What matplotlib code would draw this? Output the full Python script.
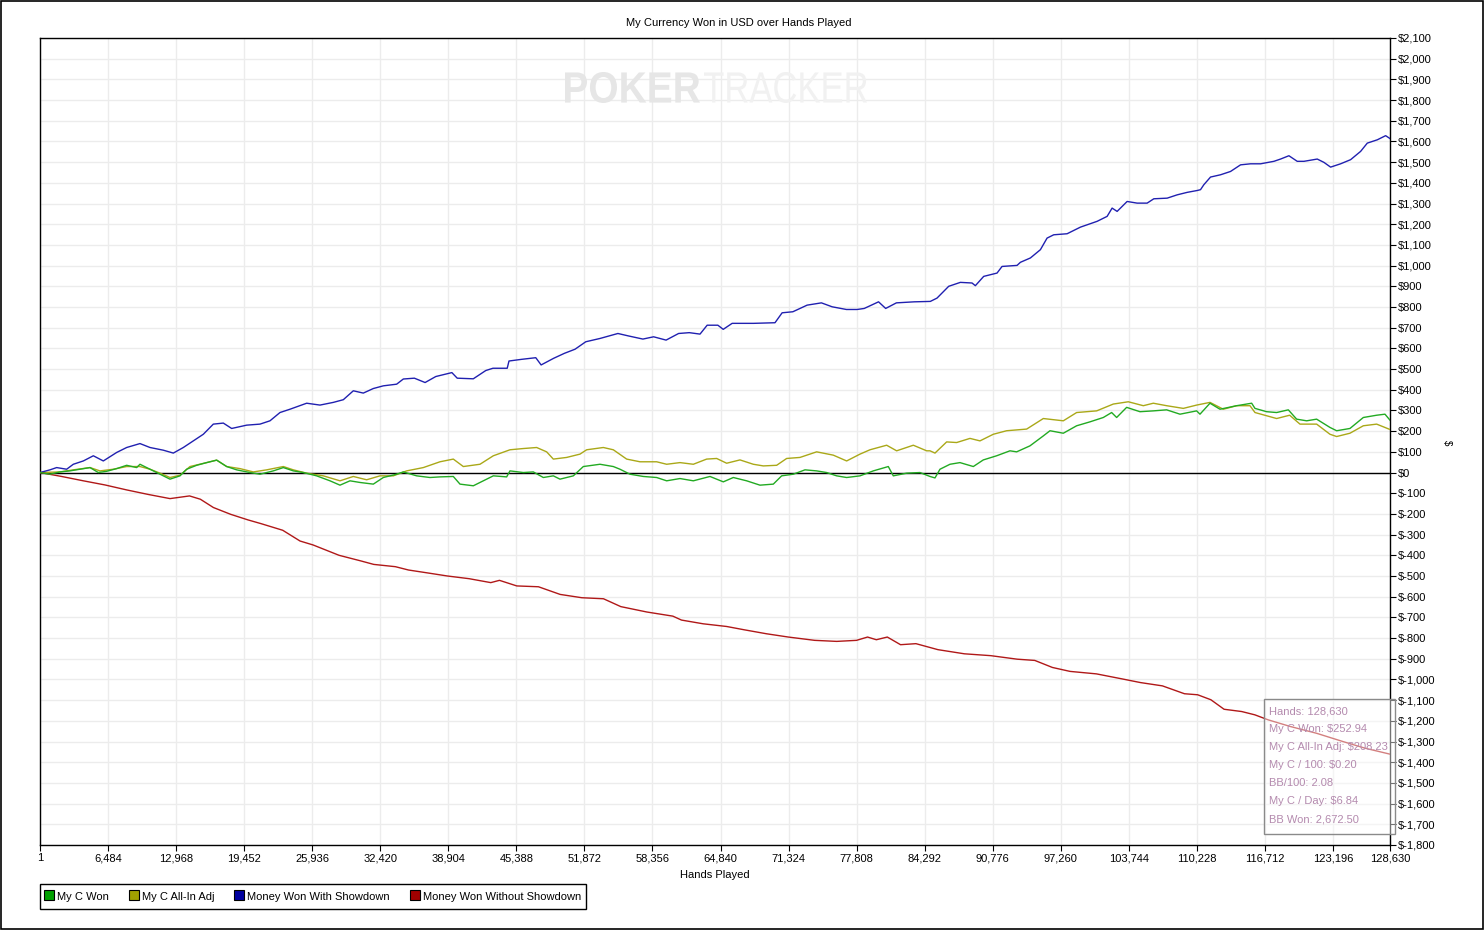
import matplotlib
matplotlib.use("Agg")
import matplotlib.pyplot as plt
from matplotlib.patches import Rectangle, PathPatch
from matplotlib.lines import Line2D
from matplotlib.textpath import TextPath
from matplotlib.font_manager import FontProperties
from matplotlib.transforms import Affine2D
from matplotlib.ticker import FuncFormatter, FixedLocator, MultipleLocator

# ---------------- data ----------------
x_ticks = [1, 6484, 12968, 19452, 25936, 32420, 38904, 45388, 51872, 58356,
           64840, 71324, 77808, 84292, 90776, 97260, 103744, 110228, 116712,
           123196, 128630]

green_hands = [1, 953, 1906, 2858, 3811, 4764, 5558, 6352, 7305, 8258, 9210, 9528,
               10481, 11434, 12386, 13339, 13974, 14927, 15880, 16833, 17786, 18738,
               20009, 20962, 22232, 23185, 24138, 25090, 26361, 27631, 28584, 29537,
               30490, 31760, 32713, 33983, 34618, 35889, 37159, 38112, 39382, 40018,
               41288, 41923, 43193, 44464, 44782, 46052, 47005, 47958, 48910, 49545,
               50816, 51769, 53357, 54627, 55262, 56215, 57485, 58756, 59709, 60979,
               62250, 63838, 65108, 66061, 67331, 68602, 69872, 70666, 71778, 72889,
               74001, 74954, 75907, 76859, 78130, 79400, 80829, 81305, 82576, 83846,
               84799, 85276, 85752, 86705, 87657, 88928, 89881, 91151, 92421, 93056,
               94327, 95597, 96233, 97503, 98773, 100044, 101314, 102108, 102584,
               103537, 104808, 106078, 107348, 108619, 110207, 110525, 111478, 112430,
               114018, 115448, 115766, 116876, 117829, 118941, 119735, 120687, 121640,
               122910, 123546, 124816, 126087, 127357, 128152, 128630]
green_vals = [0, -8, 3, 8, 16, 24, 0, 6, 19, 35, 24, 40,
              16, -8, -32, -16, 16, 35, 48, 60, 29, 13,
              0, -8, 8, 24, 8, 0, -16, -40, -61, -40,
              -48, -56, -24, -8, 3, -16, -24, -21, -19, -56,
              -64, -48, -16, -21, 8, 0, 3, -24, -16, -32,
              -16, 29, 40, 29, 16, -8, -19, -24, -40, -29,
              -40, -19, -45, -24, -40, -61, -56, -16, -8, 13,
              8, 0, -16, -24, -16, 8, 29, -16, -3, 0,
              -19, -26, 16, 40, 48, 29, 61, 81, 105, 100,
              129, 177, 202, 190, 226, 245, 266, 290, 266,
              315, 294, 298, 303, 282, 298, 282, 335, 306,
              323, 335, 310, 294, 290, 303, 258, 250, 258,
              218, 202, 213, 266, 277, 282, 253]

yellow_hands = [1, 1906, 3176, 4764, 5717, 6987, 8258, 9528, 10481, 11434, 12386,
                13339, 14292, 15880, 16833, 17786, 19056, 20327, 21597, 23185, 24138,
                25408, 26996, 28584, 29854, 31125, 32395, 33666, 34936, 36524, 38112,
                39382, 40335, 41923, 43193, 44782, 46052, 47322, 48275, 48910, 50180,
                51451, 52086, 53675, 54627, 55897, 57168, 58756, 59709, 60979, 62250,
                63520, 64473, 65426, 66696, 67967, 68920, 70190, 71142, 72413, 74001,
                75589, 76859, 78130, 79082, 80670, 81623, 83211, 84481, 84799, 85276,
                86387, 87340, 88610, 89563, 90833, 92103, 94010, 95597, 97503, 98773,
                100679, 102267, 103696, 105125, 106078, 107348, 108937, 110207, 111478,
                112748, 114018, 115289, 115766, 117829, 119069, 120052, 121640, 122910,
                123546, 124816, 126087, 127357, 128630]
yellow_vals = [0, 3, 13, 24, 8, 16, 29, 29, 16, -3, -24,
               -13, 29, 48, 60, 29, 19, 3, 13, 29, 13,
               -3, -16, -40, -19, -35, -16, -16, 8, 24, 52,
               65, 29, 40, 81, 110, 116, 121, 100, 65, 73,
               89, 110, 121, 110, 65, 52, 52, 40, 48, 40,
               65, 68, 45, 61, 40, 32, 35, 68, 73, 100,
               84, 56, 89, 110, 132, 105, 132, 105, 105, 94,
               148, 145, 165, 153, 185, 202, 210, 261, 250, 290,
               298, 331, 342, 323, 335, 323, 310, 326, 339,
               306, 323, 323, 290, 261, 277, 234, 234, 185,
               174, 190, 226, 234, 208]

blue_hands = [1, 953, 1588, 2541, 3176, 4129, 5082, 6034, 7305, 8258, 9528, 10481,
              11751, 12704, 13657, 14610, 15562, 16515, 17468, 18262, 19691, 20962,
              21914, 22867, 23820, 25408, 26678, 27949, 28902, 29854, 30807, 31760,
              32713, 33983, 34618, 35672, 36693, 37713, 39244, 39755, 41285, 42476,
              43157, 44517, 44687, 45878, 47239, 47749, 48940, 49961, 50981, 52002,
              53363, 55064, 56085, 57445, 58466, 59656, 60847, 61867, 62888, 63568,
              64589, 65099, 65950, 67991, 70032, 70712, 71733, 73094, 74455, 75475,
              76836, 77856, 78537, 79898, 80578, 81599, 83300, 84833, 85469, 86581,
              87693, 88806, 89123, 89918, 91189, 91666, 93096, 93414, 94367, 95321,
              95956, 96592, 97863, 99134, 100723, 101677, 102153, 102630, 103584,
              104537, 105490, 106126, 107397, 108351, 109304, 110258, 110576, 110894,
              111529, 112483, 113436, 114390, 115343, 116296, 117567, 118203, 118998,
              119792, 120428, 121699, 122334, 122970, 123923, 124877, 125830, 126466,
              127419, 128214, 128630]
blue_vals = [0, 13, 24, 16, 40, 56, 81, 56, 97, 121, 140, 121,
             108, 94, 121, 153, 185, 234, 239, 213, 229, 234,
             250, 290, 306, 335, 326, 339, 352, 395, 384, 406,
             419, 427, 452, 456, 435, 464, 483, 456, 453, 493,
             504, 504, 539, 547, 555, 520, 552, 576, 596, 632,
             648, 672, 660, 645, 656, 640, 672, 676, 669, 712,
             712, 692, 721, 721, 724, 772, 777, 809, 820, 801,
             788, 788, 793, 825, 793, 820, 825, 827, 843, 900,
             919, 916, 903, 948, 964, 996, 1001, 1016, 1037, 1077,
             1133, 1149, 1154, 1186, 1214, 1238, 1278, 1262, 1310,
             1302, 1302, 1323, 1326, 1342, 1354, 1363, 1367, 1391,
             1428, 1439, 1455, 1487, 1492, 1492, 1504, 1515, 1531,
             1504, 1504, 1515, 1499, 1476, 1492, 1512, 1552, 1592,
             1608, 1628, 1614]

red_hands = [1, 2065, 4130, 6195, 8260, 10325, 12390, 14249, 15281, 16520, 18172,
             19824, 21063, 23128, 24780, 26019, 28497, 30562, 31801, 33866, 35105,
             37170, 38822, 40887, 42952, 43778, 45430, 47495, 49560, 51625, 53690,
             55342, 57820, 60298, 61124, 63189, 65427, 67105, 69202, 71300, 73815,
             75912, 77800, 78850, 79690, 80735, 81993, 83461, 85559, 88075, 90592,
             93108, 94786, 96463, 98141, 100657, 103174, 104851, 106948, 109046,
             110304, 111562, 112820, 114498, 115756, 117014, 119111, 121628, 124144,
             126241, 128630]
red_vals = [0, -19, -40, -60, -84, -106, -126, -113, -129, -169, -202,
            -229, -247, -279, -331, -350, -400, -427, -444, -455, -471,
            -487, -500, -513, -532, -521, -548, -552, -589, -605, -610,
            -648, -674, -694, -713, -731, -744, -760, -779, -795, -811,
            -816, -811, -795, -808, -795, -832, -827, -856, -876, -885,
            -902, -908, -942, -961, -973, -998, -1015, -1031, -1069,
            -1074, -1098, -1144, -1155, -1171, -1195, -1227, -1260, -1300,
            -1332, -1361]

series_names = ["My C Won", "My C All-In Adj", "Money Won With Showdown",
                "Money Won Without Showdown"]
line_colors = ["#22aa22", "#aaa818", "#2020b0", "#b01818"]
swatch_colors = ["#00a000", "#a0a000", "#0000a0", "#a00000"]

tooltip_lines = ["Hands: 128,630", "My C Won: $252.94", "My C All-In Adj: $208.23",
                 "My C / 100: $0.20", "BB/100: 2.08", "My C / Day: $6.84",
                 "BB Won: 2,672.50"]

# ---------------- figure ----------------
W, H = 1484, 930
plt.rcParams['font.family'] = ['Liberation Sans', 'DejaVu Sans']
fig = plt.figure(figsize=(W / 100, H / 100), dpi=100)
fig.patch.set_facecolor("white")

def fx(px):
    return px / W

def fy(py):
    return 1 - py / H

ax = fig.add_axes([fx(40), fy(845), (1390 - 40) / W, (845 - 38) / H])
ax.set_xlim(1, 128630)
ax.set_ylim(-1800, 2100)

ax.xaxis.set_major_locator(FixedLocator(x_ticks))
ax.xaxis.set_major_formatter(FuncFormatter(lambda v, p: f"{int(round(v)):,}"))
ax.yaxis.set_major_locator(MultipleLocator(100))
ax.yaxis.set_major_formatter(FuncFormatter(lambda v, p: f"${int(round(v)):,}"))
ax.yaxis.tick_right()
ax.tick_params(axis='both', labelsize=8, length=4, width=0.8, colors='black', pad=2)
ax.grid(True, color='#ececec', linewidth=1.0)
ax.set_axisbelow(True)
for s in ax.spines.values():
    s.set_color('black')
    s.set_linewidth(1.0)

ax.axhline(0, color='black', linewidth=1.0, zorder=2)

ax.plot(yellow_hands, yellow_vals, color=line_colors[1], lw=1.0, zorder=3)
ax.plot(green_hands, green_vals, color=line_colors[0], lw=1.0, zorder=4)
ax.plot(blue_hands, blue_vals, color=line_colors[2], lw=1.0, zorder=3)
ax.plot(red_hands, red_vals, color=line_colors[3], lw=1.0, zorder=3)

ax.set_xlabel("Hands Played", fontsize=8, labelpad=5)

# watermark (text paths stretched to the logo's box)
def logo_word(word, weight, color, left, right, top, bottom):
    tp = TextPath((0, 0), word, size=1,
                  prop=FontProperties(family='Liberation Sans', weight=weight))
    bb = tp.get_extents()
    sx = (right - left) / bb.width / W
    sy = (bottom - top) / bb.height / H
    tr = (Affine2D().translate(-bb.x0, -bb.y0).scale(sx, sy)
          .translate(fx(left), fy(bottom)) + fig.transFigure)
    patch = PathPatch(tp, transform=tr, facecolor=color, edgecolor='none', zorder=1)
    fig.patches.append(patch)

logo_word("POKER", 'bold', '#e6e6e6', 565, 700, 72, 103)
logo_word("TRACKER", 'normal', '#f1f1f1', 704, 867, 72, 103)

# title and y label
fig.text(fx(739), fy(23), "My Currency Won in USD over Hands Played", fontsize=8,
         ha='center', va='center')
fig.text(fx(1447), fy(443), "$", fontsize=7, rotation=270, ha='center', va='center')

# tooltip box
fig.patches.append(Rectangle((fx(1264), fy(834)), (1395 - 1264) / W, (834 - 699) / H,
                             transform=fig.transFigure, facecolor='white', alpha=0.45,
                             edgecolor='none', zorder=5))
fig.patches.append(Rectangle((fx(1264), fy(834)), (1395 - 1264) / W, (834 - 699) / H,
                             transform=fig.transFigure, facecolor='none',
                             edgecolor='#8a8a8a', linewidth=1.0, zorder=6))
for i, t in enumerate(tooltip_lines):
    fig.text(fx(1269), fy(711 + 18 * i), t, fontsize=8, color='#b48aae',
             ha='left', va='center', zorder=7)

# legend
handles = [Line2D([], [], linestyle='none', marker='s', markersize=7,
                  markerfacecolor=c, markeredgecolor='black', markeredgewidth=0.8)
           for c in swatch_colors]
leg = fig.legend(handles, series_names, loc='upper left',
                 bbox_to_anchor=(fx(40), fy(884)), ncol=4, fontsize=8,
                 frameon=True, fancybox=False, shadow=False, framealpha=1,
                 edgecolor='black', borderaxespad=0, borderpad=0.5,
                 handleheight=1.6, handlelength=0.7, handletextpad=0.35,
                 columnspacing=1.9)
leg.get_frame().set_linewidth(1.0)

# outer border
fig.patches.append(Rectangle((0.0004, 0.0006), 0.9990, 0.9985, transform=fig.transFigure,
                             facecolor='none', edgecolor='black', linewidth=1.2, zorder=10))

fig.savefig("out.png", dpi=100)
